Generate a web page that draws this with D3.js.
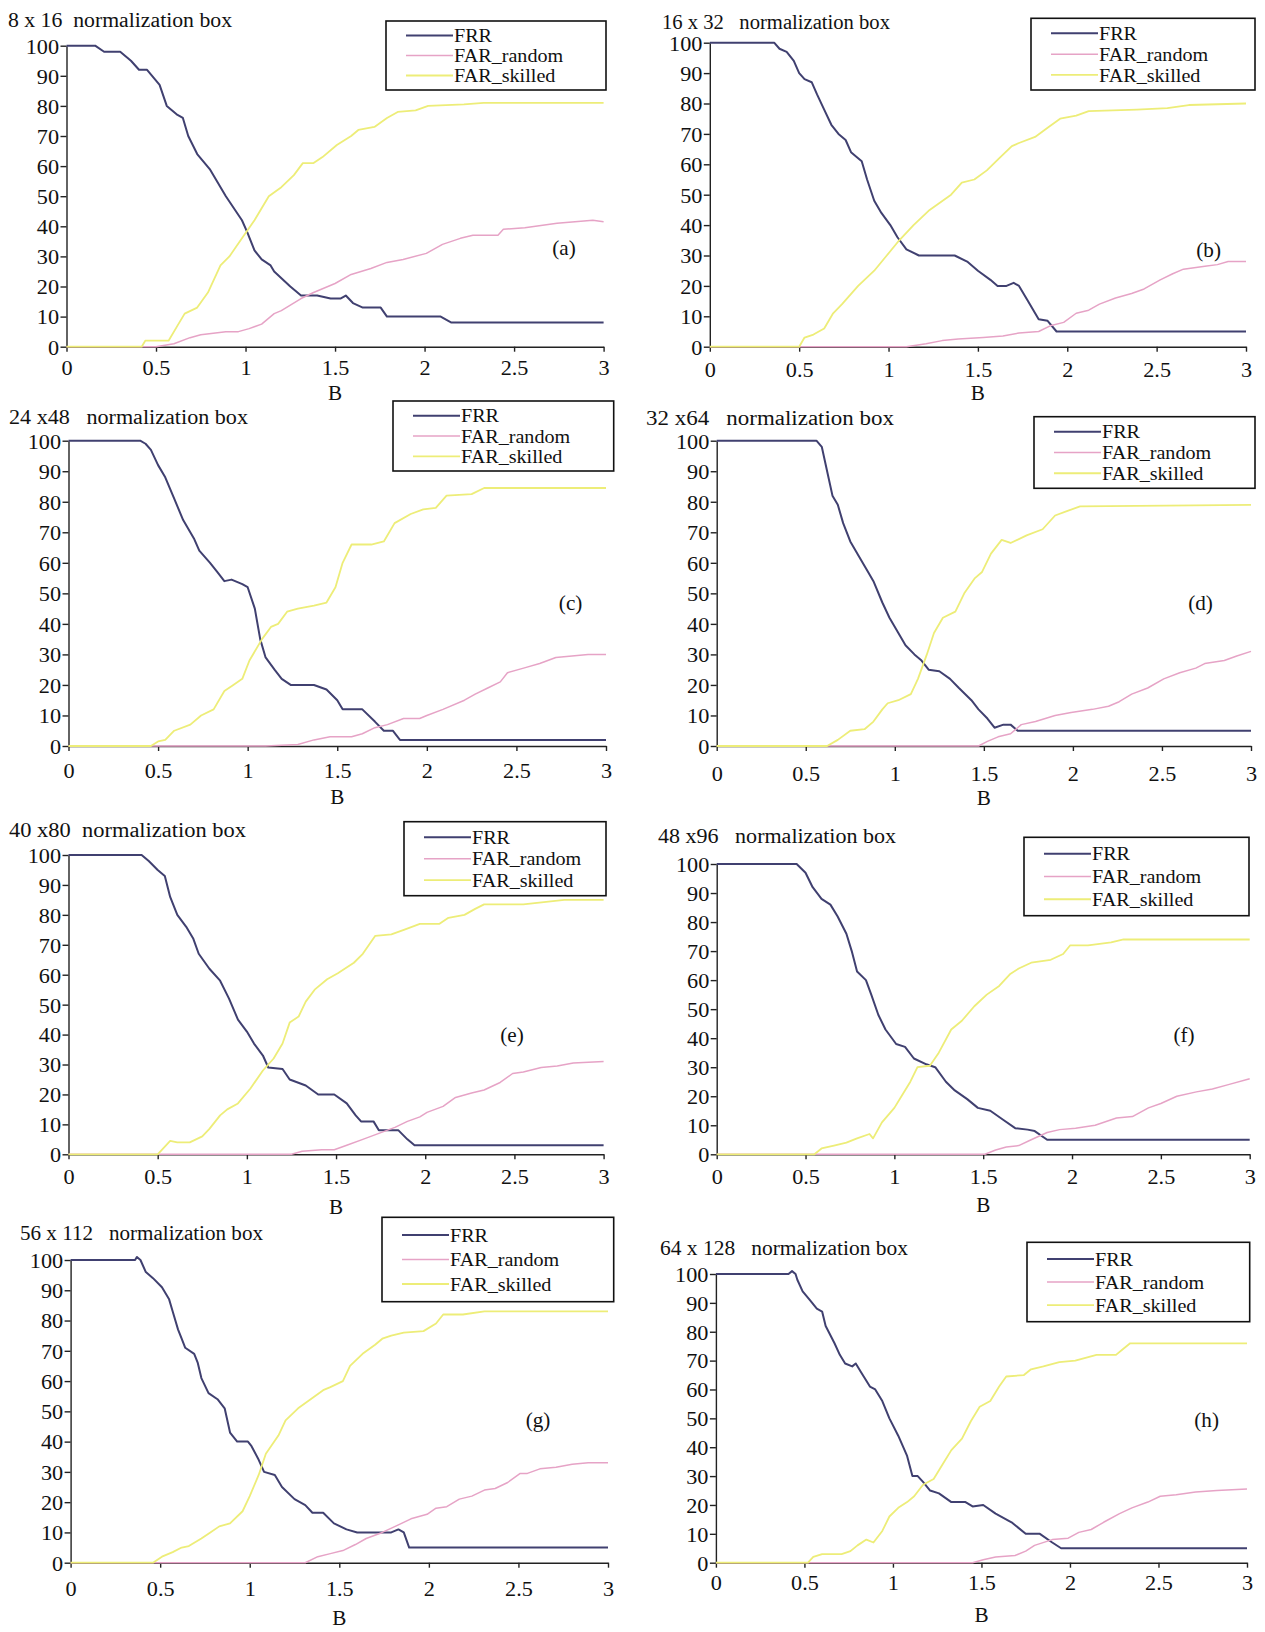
<!DOCTYPE html>
<html><head><meta charset="utf-8">
<script src="https://cdn.jsdelivr.net/npm/d3@7"></script>
<style>html,body{margin:0;padding:0;background:#fff;}svg{display:block;}</style>
</head><body>
<script>
// ---------- DATA ----------
const titles = ["8 x 16  normalization box","16 x 32   normalization box","24 x48   normalization box","32 x64   normalization box",
  "40 x80  normalization box","48 x96   normalization box","56 x 112   normalization box","64 x 128   normalization box"];
const panelLabels = ["(a)","(b)","(c)","(d)","(e)","(f)","(g)","(h)"];
const seriesNames = ["FRR","FAR_random","FAR_skilled"];
const xTicks = [0,0.5,1,1.5,2,2.5,3];
const xTickLabels = ["0","0.5","1","1.5","2","2.5","3"];
const yTicks = [0,10,20,30,40,50,60,70,80,90,100];
const xLabel = "B";

const frrA = [[0,100],[0.16,100],[0.21,98],[0.30,98],[0.36,95],[0.405,92],[0.45,92],[0.52,87],[0.56,80],[0.62,77],[0.65,76],[0.68,70],[0.73,64],[0.80,59],[0.89,50],[0.98,42],[1.01,38],[1.05,32],[1.09,29],[1.14,27],[1.16,25],[1.25,20],[1.31,17],[1.40,17],[1.475,16],[1.53,16],[1.56,17],[1.60,14.5],[1.655,13],[1.755,13],[1.79,10],[2.09,10],[2.15,8],[3,8]];
const farRA = [[0,0],[0.50,0],[0.60,1],[0.69,3],[0.75,4],[0.89,5],[0.96,5],[1.02,6],[1.09,7.5],[1.16,11],[1.20,12],[1.31,16],[1.38,18],[1.50,21],[1.59,24],[1.70,26],[1.79,28],[1.88,29],[2.01,31],[2.10,34],[2.20,36],[2.27,37],[2.41,37],[2.44,39],[2.56,39.5],[2.74,41],[2.94,42],[3,41.5]];
const farSA = [[0,0],[0.42,0],[0.44,2],[0.57,2],[0.62,7],[0.66,11],[0.73,13],[0.79,18],[0.86,27],[0.91,30],[0.98,36],[1.05,42],[1.13,50],[1.20,53],[1.27,57],[1.32,61],[1.38,61],[1.43,63],[1.51,67],[1.59,70],[1.63,72],[1.72,73],[1.79,76],[1.85,78],[1.95,78.5],[2.02,80],[2.22,80.5],[2.33,81],[3,81]];

const frrB = [[0,100],[0.36,100],[0.39,98],[0.43,97],[0.47,94],[0.50,90],[0.53,88],[0.57,87],[0.60,83],[0.64,78],[0.68,73],[0.72,70],[0.76,68],[0.79,64],[0.83,62],[0.85,61],[0.88,55],[0.92,48],[0.96,44],[1.01,40],[1.05,36],[1.10,32],[1.17,30],[1.23,30],[1.37,30],[1.44,28],[1.50,25],[1.57,22],[1.61,20],[1.66,20],[1.70,21],[1.73,20],[1.78,15],[1.84,9],[1.89,8.5],[1.94,5],[3,5]];
const farRB = [[0,0],[1.10,0],[1.21,1],[1.30,2],[1.39,2.5],[1.53,3],[1.64,3.5],[1.73,4.5],[1.84,5],[1.91,7],[1.98,8],[2.05,11],[2.12,12],[2.18,14],[2.27,16],[2.36,17.5],[2.43,19],[2.52,22],[2.59,24],[2.65,25.5],[2.77,26.5],[2.84,27],[2.90,28],[3,28]];
const farSB = [[0,0],[0.50,0],[0.53,3],[0.58,4],[0.64,6],[0.69,11],[0.74,14],[0.83,20],[0.92,25],[0.99,30],[1.06,35],[1.14,40],[1.23,45],[1.35,50],[1.41,54],[1.48,55],[1.55,58],[1.62,62],[1.69,66],[1.73,67],[1.82,69],[1.89,72],[1.96,75],[2.05,76],[2.12,77.5],[2.39,78],[2.56,78.5],[2.68,79.5],[3,80]];

const frrC = [[0,100],[0.40,100],[0.43,99],[0.46,97],[0.50,92],[0.54,88],[0.59,81],[0.64,74],[0.70,68],[0.73,64],[0.79,60],[0.83,57],[0.87,54],[0.91,54.5],[0.97,53],[1.00,52],[1.04,45],[1.07,35],[1.10,29],[1.15,25],[1.19,22],[1.24,20],[1.37,20],[1.44,18.5],[1.50,15],[1.53,12],[1.64,12],[1.71,8],[1.76,5],[1.81,5],[1.85,2],[3,2]];
const farRC = [[0,0],[1.10,0],[1.28,0.5],[1.37,2],[1.46,3],[1.58,3],[1.64,4],[1.71,6],[1.78,7],[1.87,9],[1.96,9],[2.00,10],[2.09,12],[2.21,15],[2.27,17],[2.34,19],[2.41,21],[2.45,24],[2.54,25.5],[2.63,27],[2.72,29],[2.81,29.5],[2.90,30],[3,30]];
const farSC = [[0,0],[0.46,0],[0.50,1.5],[0.54,2],[0.59,5],[0.68,7],[0.74,10],[0.81,12],[0.87,18],[0.92,20],[0.97,22],[1.01,28],[1.08,35],[1.13,39],[1.17,40],[1.22,44],[1.28,45],[1.37,46],[1.44,47],[1.49,52],[1.53,60],[1.58,66],[1.69,66],[1.76,67],[1.82,73],[1.91,76],[1.98,77.5],[2.05,78],[2.11,82],[2.25,82.5],[2.32,84.5],[3,84.5]];

const frrD = [[0,100],[0.56,100],[0.59,98],[0.62,90],[0.65,82],[0.68,79],[0.71,73],[0.75,67],[0.79,63],[0.85,57],[0.88,54],[0.93,47],[0.97,42],[1.02,37],[1.06,33],[1.11,30],[1.15,28],[1.19,25],[1.25,24.5],[1.31,22],[1.36,19],[1.43,15],[1.47,12],[1.52,9],[1.56,6],[1.61,7],[1.65,7],[1.69,5],[3,5]];
const farRD = [[0,0],[1.47,0],[1.52,1.5],[1.58,3],[1.65,4],[1.71,7],[1.79,8],[1.90,10],[1.99,11],[2.11,12],[2.20,13],[2.26,14.5],[2.33,17],[2.42,19],[2.51,22],[2.60,24],[2.69,25.5],[2.74,27],[2.85,28],[2.92,29.5],[3,31]];
const farSD = [[0,0],[0.62,0],[0.68,2],[0.75,5],[0.83,5.5],[0.88,8],[0.93,12],[0.96,14],[1.02,15],[1.09,17],[1.13,22],[1.18,30],[1.22,37],[1.27,42],[1.34,44],[1.39,50],[1.45,55],[1.49,57],[1.54,63],[1.60,67.5],[1.65,66.5],[1.74,69],[1.83,71],[1.90,75.5],[1.97,77],[2.04,78.5],[3,79]];

const frrE = [[0,100],[0.41,100],[0.45,98],[0.50,95],[0.54,93],[0.57,86],[0.61,80],[0.66,76],[0.70,72],[0.73,67],[0.79,62],[0.85,58],[0.90,52],[0.95,45],[1.00,41],[1.04,37],[1.09,33],[1.12,29],[1.20,28.5],[1.24,25],[1.33,23],[1.40,20],[1.49,20],[1.56,17],[1.61,13],[1.64,11],[1.71,11],[1.74,8],[1.85,8],[1.90,5],[1.94,3],[3,3]];
const farRE = [[0,0],[1.25,0],[1.31,1],[1.42,1.5],[1.49,1.5],[1.56,3],[1.65,5],[1.74,7],[1.83,9],[1.90,11],[1.97,12.5],[2.01,14],[2.10,16],[2.17,19],[2.26,20.5],[2.33,21.5],[2.42,24],[2.49,27],[2.55,27.5],[2.65,29],[2.74,29.5],[2.83,30.5],[3,31]];
const farSE = [[0,0],[0.50,0],[0.57,4.5],[0.61,4],[0.68,4],[0.75,6],[0.79,8.5],[0.85,13],[0.89,15],[0.95,17],[1.02,22],[1.09,28],[1.15,32],[1.20,37],[1.24,44],[1.29,46],[1.33,51],[1.38,55],[1.45,58.5],[1.51,60.5],[1.60,64],[1.65,67],[1.72,73],[1.81,73.5],[1.88,75],[1.97,77],[2.08,77],[2.13,79],[2.22,80],[2.28,82],[2.33,83.5],[2.55,83.5],[2.78,85],[3,85]];

const frrF = [[0,100],[0.45,100],[0.50,97],[0.54,92],[0.59,88],[0.64,86],[0.68,82],[0.73,76],[0.76,70],[0.79,63],[0.84,60],[0.87,55],[0.91,48],[0.95,43],[1.01,38],[1.06,37],[1.11,33],[1.18,31],[1.23,30],[1.29,25],[1.34,22],[1.41,19],[1.47,16],[1.54,15],[1.61,12],[1.68,9],[1.75,8.5],[1.79,8],[1.86,5],[3,5]];
const farRF = [[0,0],[1.51,0],[1.57,1.5],[1.63,2.5],[1.70,3],[1.77,5],[1.86,7.5],[1.93,8.5],[2.02,9],[2.13,10],[2.25,12.5],[2.34,13],[2.43,16],[2.50,17.5],[2.59,20],[2.70,21.5],[2.79,22.5],[2.88,24],[3,26]];
const farSF = [[0,0],[0.55,0],[0.59,2],[0.66,3],[0.73,4],[0.79,5.5],[0.86,7],[0.88,5.5],[0.93,11],[1.00,16],[1.04,20],[1.09,25],[1.13,30],[1.20,30.5],[1.25,35],[1.32,43],[1.38,46],[1.45,51],[1.52,55],[1.59,58],[1.65,62],[1.70,64],[1.77,66],[1.88,67],[1.95,69],[1.99,72],[2.09,72],[2.22,73],[2.29,74],[3,74]];

const frrG = [[0,100],[0.36,100],[0.37,101],[0.39,100],[0.42,96],[0.46,94],[0.51,91],[0.55,87],[0.57,83],[0.60,77],[0.62,74],[0.64,71],[0.69,69],[0.71,66],[0.73,61],[0.77,56],[0.82,54],[0.86,51],[0.89,43],[0.93,40],[0.99,40],[1.01,38.5],[1.05,34],[1.08,30],[1.14,29],[1.18,25],[1.25,21],[1.31,19],[1.35,16.5],[1.41,16.5],[1.47,13],[1.54,11],[1.60,10],[1.79,10],[1.83,11],[1.86,10],[1.89,5],[3,5]];
const farRG = [[0,0],[1.31,0],[1.38,2],[1.45,3],[1.52,4],[1.59,6],[1.65,8],[1.74,10],[1.83,12.5],[1.90,14.5],[1.99,16],[2.04,18],[2.10,18.5],[2.17,21],[2.24,22],[2.31,24],[2.37,24.5],[2.44,26.5],[2.51,29.5],[2.55,29.5],[2.62,31],[2.71,31.5],[2.80,32.5],[2.89,33],[3,33]];
const farSG = [[0,0],[0.46,0],[0.51,2],[0.57,3.5],[0.62,5],[0.66,5.5],[0.73,8],[0.78,10],[0.83,12],[0.89,13],[0.96,17],[1.00,22],[1.05,29],[1.09,36],[1.16,42],[1.20,47],[1.27,51],[1.34,54],[1.41,57],[1.45,58],[1.52,60],[1.56,65],[1.63,69],[1.70,72],[1.74,74],[1.79,75],[1.86,76],[1.97,76.5],[2.04,79],[2.08,82],[2.19,82],[2.31,83],[3,83]];

const frrH = [[0,100],[0.41,100],[0.43,101],[0.45,100],[0.46,98],[0.49,94],[0.53,91],[0.57,88],[0.60,87],[0.62,82],[0.67,76],[0.70,72],[0.73,69],[0.77,68],[0.79,69],[0.82,66],[0.87,61],[0.90,60],[0.94,56],[0.98,50],[1.03,44],[1.08,37],[1.11,30],[1.14,30],[1.17,28],[1.21,25],[1.26,24],[1.33,21],[1.41,21],[1.45,19.5],[1.51,20],[1.58,17],[1.67,14],[1.75,10],[1.83,10],[1.90,7],[1.95,5],[3,5]];
const farRH = [[0,0],[1.45,0],[1.51,1],[1.58,2],[1.69,2.5],[1.75,4],[1.80,6],[1.90,8],[1.99,8.5],[2.05,10.5],[2.12,11.5],[2.19,14],[2.28,17],[2.35,19],[2.44,21],[2.51,23],[2.60,23.5],[2.71,24.5],[2.83,25],[3,25.5]];
const farSH = [[0,0],[0.52,0],[0.55,2],[0.60,3],[0.71,3],[0.76,4],[0.80,6],[0.85,8],[0.89,7],[0.94,11],[0.98,16],[1.03,19],[1.08,21],[1.12,23],[1.17,27],[1.23,29],[1.28,34],[1.33,39],[1.39,43],[1.44,49],[1.49,54],[1.55,56],[1.60,61],[1.64,64.5],[1.74,65],[1.78,67],[1.85,68],[1.94,69.5],[2.03,70],[2.15,72],[2.26,72],[2.30,74],[2.34,76],[3,76]];

const seriesByPanel = [
  [frrA, farRA, farSA],[frrB, farRB, farSB],[frrC, farRC, farSC],[frrD, farRD, farSD],
  [frrE, farRE, farSE],[frrF, farRF, farSF],[frrG, farRG, farSG],[frrH, farRH, farSH]
];

// ---------- LAYOUT (positions only) ----------
const layout = [
  {x0:66.5, x1:603.6, y100:45.7, y0:346.7, tx:8,   ty:20,    tw:224, lg:[386,21,220,69],     lx:564,   ly:248,  tickDy:20.5, bY:393},
  {x0:709.8,x1:1246,  y100:42.7, y0:346.7, tx:662, ty:21.7,  tw:228, lg:[1031,18.3,224,71.7],lx:1208.6,ly:250,  tickDy:23.3, bY:393},
  {x0:68.5, x1:606,   y100:440.7,y0:746,   tx:9,   ty:416.7, tw:239, lg:[393,401,220.7,70],  lx:570.6, ly:603,  tickDy:24.5, bY:797},
  {x0:716.7,x1:1251,  y100:440.7,y0:746,   tx:646, ty:417.7, tw:248, lg:[1034,416.7,221,71.6],lx:1200.5,ly:603, tickDy:27.5, bY:798},
  {x0:68.5, x1:603.6, y100:855,  y0:1154.3,tx:9,   ty:830,   tw:237, lg:[404,821.7,202,74],  lx:512,   ly:1035, tickDy:22.4, bY:1206.7},
  {x0:716.7,x1:1249.7,y100:864,  y0:1154.3,tx:658, ty:835.7, tw:238, lg:[1024,837.3,225,78.4],lx:1184, ly:1035, tickDy:22.4, bY:1205},
  {x0:70.6, x1:608,   y100:1260, y0:1562.7,tx:20,  ty:1233.3,tw:243, lg:[382,1217.3,231.7,84.4],lx:538, ly:1420, tickDy:26.3, bY:1618},
  {x0:715.9,x1:1247,  y100:1274, y0:1562.7,tx:660, ty:1248.3,tw:248, lg:[1027,1242.3,222.7,79.4],lx:1206.6,ly:1420,tickDy:20.3, bY:1615}
];
const colors = ["#404070","#e6a3c6","#eded78"];
const widths = [2,1.5,1.8];
const FONT = "'Liberation Serif','Times New Roman',serif";
const SX = 1.06;

const svg = d3.select("body").append("svg").attr("width",1265).attr("height",1632)
  .style("background","#fff");

function stretchedText(g, x, y, str, size, anchor){
  return g.append("text")
    .attr("transform", `translate(${x},${y}) scale(${SX},1)`)
    .attr("text-anchor", anchor||"start")
    .attr("dy","0.35em")
    .style("font-family", FONT).style("font-size", size+"px").style("fill","#111")
    .style("white-space","pre")
    .text(str);
}

seriesByPanel.forEach((series, i) => {
  const L = layout[i];
  const g = svg.append("g");
  const x = d3.scaleLinear().domain([0,3]).range([L.x0, L.x1]);
  const y = d3.scaleLinear().domain([0,100]).range([L.y0, L.y100]);

  // axes
  const gx = g.append("g").attr("transform",`translate(0,${L.y0})`)
    .call(d3.axisBottom(x).tickValues(xTicks).tickFormat((d,k)=>xTickLabels[k]).tickSize(5).tickSizeOuter(0));
  gx.selectAll("text").attr("y", L.tickDy).attr("dy","0.35em")
    .attr("transform",`scale(${SX},1)`).attr("x",0);
  const gy = g.append("g").attr("transform",`translate(${L.x0},0)`)
    .call(d3.axisLeft(y).tickValues(yTicks).tickSize(6).tickSizeOuter(0).tickPadding(1));
  gy.selectAll("text").attr("transform",`scale(${SX},1)`).attr("dy","0.35em");
  [gx, gy].forEach(a => {
    a.attr("font-family", null).attr("font-size", null);
    a.selectAll("text").style("font-family", FONT).style("font-size","21px").style("fill","#111");
    a.selectAll("path,line").attr("stroke","#222").attr("stroke-width",1.4);
  });

  // series
  const line = d3.line().x(d=>x(d[0])).y(d=>y(d[1]));
  series.forEach((s, k) => {
    g.append("path").datum(s).attr("d", line).attr("fill","none")
      .attr("stroke", colors[k]).attr("stroke-width", widths[k]).attr("stroke-linejoin","round");
  });

  // title
  g.append("text").attr("x", L.tx).attr("y", L.ty).attr("dy","0.35em")
    .attr("textLength", L.tw).attr("lengthAdjust","spacingAndGlyphs")
    .style("font-family", FONT).style("font-size","20px").style("fill","#111")
    .style("white-space","pre").text(titles[i]);

  // legend
  const [bx, by, bw, bh] = L.lg;
  g.append("rect").attr("x",bx).attr("y",by).attr("width",bw).attr("height",bh)
    .attr("fill","#fff").attr("stroke","#111").attr("stroke-width",1.6);
  const rows = [0.21, 0.5, 0.79];
  seriesNames.forEach((nm, k) => {
    const ry = by + bh*rows[k];
    g.append("line").attr("x1", bx+20).attr("x2", bx+67).attr("y1", ry).attr("y2", ry)
      .attr("stroke", colors[k]).attr("stroke-width", widths[k]);
    stretchedText(g, bx+68, ry, nm, 19, "start");
  });

  // panel label and axis title
  stretchedText(g, L.lx, L.ly, panelLabels[i], 20, "middle");
  stretchedText(g, (L.x0+L.x1)/2, L.bY, xLabel, 20, "middle");
});
</script>
</body></html>
